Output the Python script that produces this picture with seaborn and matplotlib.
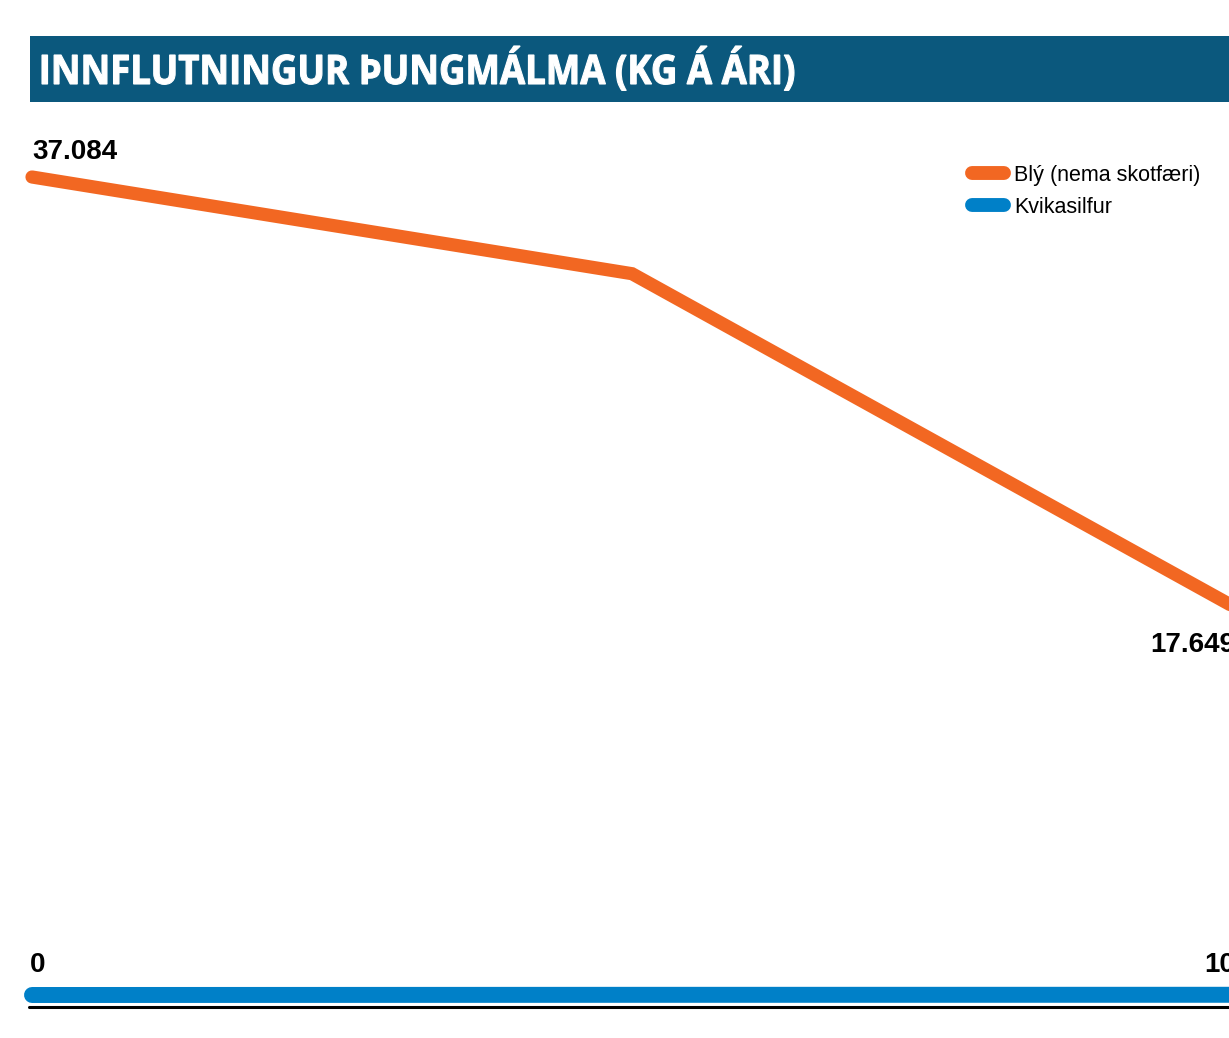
import matplotlib
matplotlib.use("Agg")
import matplotlib.pyplot as plt
import seaborn as sns
import pandas as pd
from matplotlib.patches import Rectangle, PathPatch
from matplotlib.lines import Line2D
from matplotlib.textpath import TextPath
from matplotlib.font_manager import FontProperties
from matplotlib.transforms import Affine2D

# gögn lesin af myndinni (ártöl sjást ekki, aðeins þrír punktar)
timabil = [0, 1, 2]
bly = [37084, 32700, 17649]
kvikasilfur = [0, 8, 10]
heiti = ["Blý (nema skotfæri)", "Kvikasilfur"]
titill = "INNFLUTNINGUR ÞUNGMÁLMA (KG Á ÁRI)"

appelsinugulur = "#f26722"
blar = "#0080c8"
titilblar = "#0b587d"

sns.set_style("white")
plt.rcParams["font.family"] = ["Liberation Sans", "DejaVu Sans"]
plt.rcParams["text.color"] = "black"

df = pd.DataFrame({"t": timabil * 2,
                   "kg": bly + kvikasilfur,
                   "efni": [heiti[0]] * 3 + [heiti[1]] * 3})

W, H = 1229, 1038
fig = plt.figure(figsize=(W / 100, H / 100), dpi=100)
# ásinn nær aðeins út fyrir hægri brún, eins og á fyrirmyndinni
ax = fig.add_axes([32 / W, (H - 995) / H, 1200 / W, (995 - 177) / H])

sns.lineplot(data=df, x="t", y="kg", hue="efni", ax=ax,
             palette=[appelsinugulur, blar], legend=False)
for ln, lw in zip(ax.lines, [9.5, 11.5]):
    ln.set_linewidth(lw)
    ln.set_solid_capstyle("round")
    ln.set_solid_joinstyle("miter")
    ln.set_clip_on(False)
ax.lines[1].set_zorder(1)

ax.set_xlim(timabil[0], timabil[-1])
ax.set_ylim(0, bly[0])
ax.axis("off")

# svört grunnlína
fig.add_artist(Line2D([29 / W, 1.0], [(H - 1006.5) / H] * 2, color="black", lw=2.2))

gildi_f = dict(fontsize=20, fontweight="bold", textcoords="offset pixels",
               annotation_clip=False, color="black")
ax.annotate("37.084", (timabil[0], bly[0]), xytext=(0, 18), ha="left", va="baseline", **gildi_f)
ax.annotate("17.649", (timabil[-1], bly[-1]), xytext=(3, -46), ha="right", va="baseline", **gildi_f)
ax.annotate("0", (timabil[0], kvikasilfur[0]), xytext=(-2, 23), ha="left", va="baseline", **gildi_f)
ax.annotate("10", (timabil[-1], 0), xytext=(3, 23), ha="right", va="baseline", **gildi_f)

# titilborði
fig.add_artist(Rectangle((30 / W, (H - 102) / H), 1.0, 66 / H, transform=fig.transFigure,
                         facecolor=titilblar, edgecolor="none"))
# þjappað feitletur: textaslóð kreist lárétt
tp = TextPath((0, 0), titill, size=100, prop=FontProperties(family="Open Sans", weight="bold"))
ext = tp.get_extents()
hastafur = TextPath((0, 0), "I", size=100,
                    prop=FontProperties(family="Open Sans", weight="bold")).get_extents().height
sy = 29 / hastafur
sx = 752 / ext.width
trf = Affine2D().translate(-ext.x0, 0).scale(sx, sy).translate(42, H - 84)
fig.add_artist(PathPatch(trf.transform_path(tp), facecolor="white", edgecolor="white",
                         linewidth=0.8, transform=None))

handles = [Line2D([], [], color=c, lw=10, solid_capstyle="round") for c in [appelsinugulur, blar]]
fig.legend(handles, heiti, loc="upper left", bbox_to_anchor=(972 / W, 1 - 165 / H),
           frameon=False, fontsize=15.5, handlelength=1.5, handletextpad=0.45,
           borderpad=0, borderaxespad=0, labelspacing=0.5)

fig.savefig("out.png", dpi=100)
